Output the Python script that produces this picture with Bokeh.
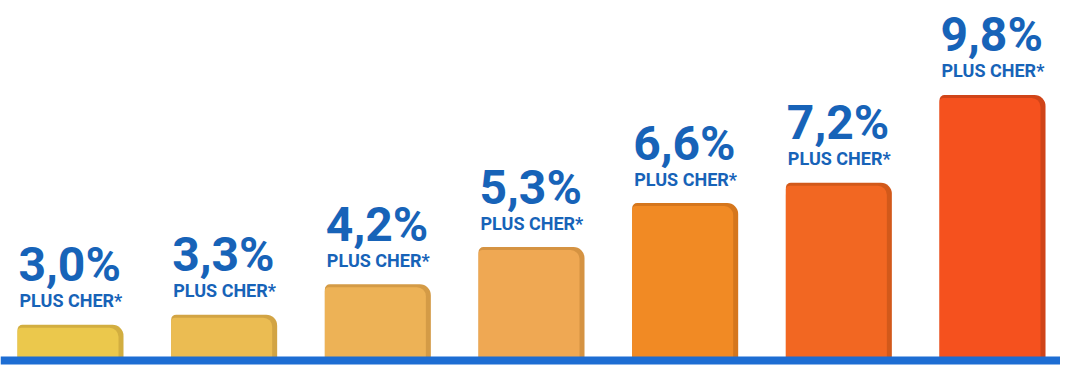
from bokeh.plotting import figure
from bokeh.models import Range1d, Span, ColumnDataSource
from bokeh.core.properties import value
from bokeh.embed import file_html
from bokeh.resources import INLINE

# ---- data ----
labels = ["3,0%", "3,3%", "4,2%", "5,3%", "6,6%", "7,2%", "9,8%"]
values = [3.0, 3.3, 4.2, 5.3, 6.6, 7.2, 9.8]
subtitle = "PLUS CHER*"
colors = ["#EBC84C", "#EBBC52", "#EDB256", "#EFA853", "#F18A24", "#F26722", "#F5511E"]
shades = ["#D2AE40", "#D2A444", "#D49B46", "#D59342", "#D5761C", "#D2591A", "#D04418"]

# ---- layout / style ----
TEXT_BLUE = "#1763B8"
LINE_BLUE = "#1D6DD3"
W, H = 1060, 372
PX_X = 153.67          # pixels per category step
PX_Y = 33.8            # pixels per percentage point
BASE = 1.943           # value sitting on the baseline
BASE_PX = 360          # baseline position from top of frame
x0 = -70 / PX_X

p = figure(width=W, height=H, output_backend="svg", toolbar_location=None,
           x_range=Range1d(x0, x0 + W / PX_X),
           y_range=Range1d(BASE - (H - BASE_PX) / PX_Y, BASE + BASE_PX / PX_Y),
           min_border=0)
p.axis.visible = False
p.grid.visible = False
p.outline_line_color = None

bw = 106 / PX_X
dx = 5 / PX_X
dy = 3 / PX_Y
xs = list(range(len(values)))
src = ColumnDataSource(dict(
    x=xs, top=values, color=colors, shade=shades, label=labels,
    xin=[x - dx / 2 for x in xs], topin=[v - dy for v in values],
    left=[x - bw / 2 for x in xs], sub=[subtitle] * len(values)))

p.vbar(x="x", top="top", bottom=BASE, width=bw, fill_color="shade",
       line_color=None, border_radius=(5, 11, 0, 0), source=src)
p.vbar(x="xin", top="topin", bottom=BASE, width=bw - dx, fill_color="color",
       line_color=None, border_radius=(4, 9, 0, 0), source=src)

p.text(x="left", y="top", text="label", source=src, x_offset=1, y_offset=-60,
       text_font=value("Roboto"), text_font_style="bold", text_font_size="48px",
       text_color=TEXT_BLUE, text_align="left", text_baseline="alphabetic")
p.text(x="left", y="top", text="sub", source=src, x_offset=2, y_offset=-24,
       text_font=value("Roboto"), text_font_style="bold", text_font_size="18px",
       text_color=TEXT_BLUE, text_align="left", text_baseline="alphabetic")

p.add_layout(Span(location=BASE, dimension="width", line_color=LINE_BLUE, line_width=8))

open("out.html", "w").write(file_html(p, INLINE))
